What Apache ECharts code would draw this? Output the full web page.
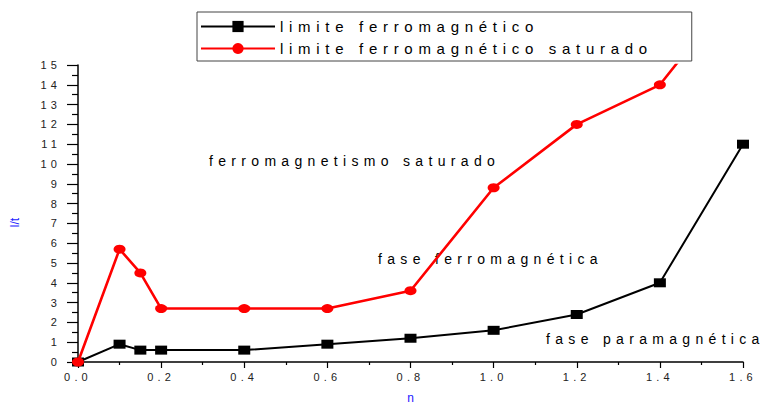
<!DOCTYPE html>
<html>
<head>
<meta charset="utf-8">
<script src="https://cdn.jsdelivr.net/npm/echarts@6/dist/echarts.min.js"></script>
<style>
html,body{margin:0;padding:0;background:#fff;}
#chart{width:769px;height:406px;}
#chart svg text{letter-spacing:0.38em;}
#chart svg text[fill="#1a1aff"], #chart svg text[fill="rgb(26,26,255)"]{letter-spacing:0;}
</style>
</head>
<body>
<div id="chart"></div>
<script>
const nValues = [0, 0.1, 0.15, 0.2, 0.4, 0.6, 0.8, 1.0, 1.2, 1.4, 1.6];
const limiteFerro = [0, 0.9, 0.6, 0.6, 0.6, 0.9, 1.2, 1.6, 2.4, 4.0, 11.0];
const limiteSaturado = [0, 5.7, 4.5, 2.7, 2.7, 2.7, 3.6, 8.8, 12.0, 14.0, 19.3];
const seriesNames = ['limite ferromagnético', 'limite ferromagnético saturado'];
const xTickLabels = ['0.0','0.2','0.4','0.6','0.8','1.0','1.2','1.4','1.6'];
const annotations = [
  {text: 'ferromagnetismo saturado', x: 209, y: 162},
  {text: 'fase ferromagnética', x: 378, y: 260},
  {text: 'fase paramagnética', x: 546, y: 340}
];

const FONT = '"Liberation Sans", Arial, sans-serif';
const chart = echarts.init(document.getElementById('chart'), null, {renderer: 'svg'});

function pairs(xs, ys){ return xs.map((x,i)=>[x, ys[i]]); }

chart.setOption({
  animation: false,
  backgroundColor: '#fff',
  textStyle: {fontFamily: FONT},
  grid: {left: 78, right: 26, top: 65, bottom: 44, containLabel: false, outerBoundsMode: 'none'},
  legend: {
    orient: 'vertical',
    left: 197, top: 12,
    itemWidth: 74, itemHeight: 14, itemGap: 7,
    padding: [7, 210, 5, 3],
    borderColor: '#444', borderWidth: 1,
    textStyle: {fontSize: 15, color: '#000', fontFamily: FONT},
    data: seriesNames
  },
  xAxis: {
    type: 'value', min: 0, max: 1.6, interval: 0.2,
    name: 'n', nameLocation: 'middle', nameGap: 30,
    nameTextStyle: {color: '#1a1aff', fontSize: 12, fontFamily: FONT},
    axisLine: {onZero: false, lineStyle: {color: '#000', width: 1.5}},
    axisTick: {inside: false, length: 6, lineStyle: {color: '#000', width: 1.2}},
    minorTick: {show: true, splitNumber: 2, length: 3, lineStyle: {color: '#000', width: 1.2}},
    splitLine: {show: false},
    axisLabel: {
      margin: 9, fontSize: 11, color: '#222', fontFamily: FONT,
      formatter: function(v){ const i = Math.round(v/0.2); return xTickLabels[i] !== undefined ? xTickLabels[i] : ''; }
    }
  },
  yAxis: {
    type: 'value', min: 0, max: 15, interval: 1,
    name: 'l/t', nameLocation: 'middle', nameGap: 57,
    nameTextStyle: {color: '#1a1aff', fontSize: 12, fontFamily: FONT, padding: [0, 18, 0, 0]},
    axisLine: {onZero: false, lineStyle: {color: '#000', width: 1.5}},
    axisTick: {inside: false, length: 11, lineStyle: {color: '#000', width: 1.2}},
    minorTick: {show: true, splitNumber: 2, length: 6, lineStyle: {color: '#000', width: 1.2}},
    splitLine: {show: false},
    axisLabel: {margin: 17, fontSize: 11, color: '#222', fontFamily: FONT}
  },
  graphic: annotations.map(a => ({
    type: 'text', left: a.x, top: a.y - 8, z: 0,
    style: {text: a.text, fill: '#000', font: '14px ' + FONT}
  })),
  series: [
    {
      name: seriesNames[0], type: 'line',
      data: pairs(nValues, limiteFerro),
      symbol: 'rect', symbolSize: [12, 9],
      itemStyle: {color: '#000'},
      lineStyle: {color: '#000', width: 2},
      clip: true, z: 3
    },
    {
      name: seriesNames[1], type: 'line',
      data: pairs(nValues, limiteSaturado),
      symbol: 'circle', symbolSize: [12, 9],
      itemStyle: {color: '#ff0000'},
      lineStyle: {color: '#ff0000', width: 2.6},
      clip: true, z: 4
    }
  ]
});
</script>
</body>
</html>
